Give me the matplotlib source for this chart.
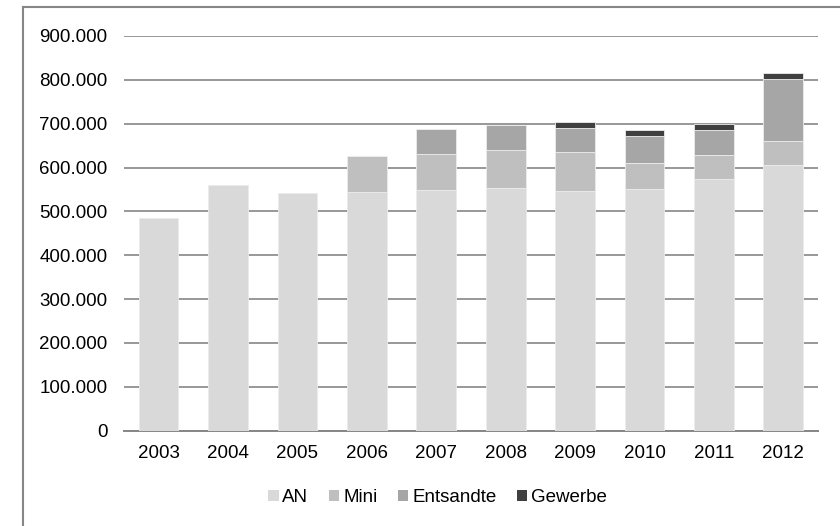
import matplotlib
matplotlib.use("Agg")
import matplotlib.pyplot as plt
from matplotlib.lines import Line2D
from matplotlib.patches import Patch
from matplotlib.ticker import FuncFormatter

plt.rcParams['font.family'] = ['Liberation Sans', 'DejaVu Sans']

# Daten (Personen)
years = ['2003', '2004', '2005', '2006', '2007', '2008', '2009', '2010', '2011', '2012']
an = [485000, 561000, 543000, 545000, 549000, 554000, 547000, 550000, 574000, 606000]
mini = [0, 0, 0, 82000, 82000, 86000, 89000, 61000, 55000, 55000]
entsandte = [0, 0, 0, 0, 58000, 58000, 54000, 62000, 57000, 142000]
gewerbe = [0, 0, 0, 0, 0, 0, 14000, 13000, 13000, 13000]

series = [('AN', an, '#d9d9d9'),
          ('Mini', mini, '#bfbfbf'),
          ('Entsandte', entsandte, '#a6a6a6'),
          ('Gewerbe', gewerbe, '#404040')]

fig = plt.figure(figsize=(8.4, 5.26), dpi=100)
ax = fig.add_axes([0.1476, 0.1812, 0.8262, 0.7504])

x = range(len(years))
bottom = [0] * len(years)
for name, vals, col in series:
    ax.bar(x, vals, width=0.571, bottom=bottom, color=col, label=name,
           edgecolor='#ececec', linewidth=0.6, zorder=3)
    bottom = [b + v for b, v in zip(bottom, vals)]

ax.set_xlim(-0.5, len(years) - 0.5)
ax.set_ylim(0, 900000)
ax.set_yticks(range(0, 900001, 100000))
ax.yaxis.set_major_formatter(FuncFormatter(lambda v, p: f"{int(v):,}".replace(',', '.')))
ax.set_xticks(list(x))
ax.set_xticklabels(years)

ax.grid(axis='y', color='#868686', linewidth=1.2, zorder=0)
for s in ['top', 'right', 'left']:
    ax.spines[s].set_visible(False)
ax.spines['bottom'].set_color('#868686')
ax.spines['bottom'].set_linewidth(1.4)
ax.tick_params(axis='both', length=0, labelsize=13.5, colors='black')
ax.tick_params(axis='y', pad=12)
ax.tick_params(axis='x', pad=10)

handles = [Patch(facecolor=c, edgecolor='none') for _, _, c in series]
fig.legend(handles, [n for n, _, _ in series], loc='center', bbox_to_anchor=(0.521, 0.054),
           ncol=4, frameon=False, fontsize=13.5, handlelength=0.55, handleheight=0.55,
           handletextpad=0.2, columnspacing=1.1)

# Rahmen (links und oben sichtbar)
fig.add_artist(Line2D([23 / 840, 23 / 840], [0, 1 - 7 / 526], color='#868686', linewidth=1.5))
fig.add_artist(Line2D([23 / 840, 1], [1 - 7 / 526, 1 - 7 / 526], color='#868686', linewidth=1.5))

fig.savefig('out.png', dpi=100)
